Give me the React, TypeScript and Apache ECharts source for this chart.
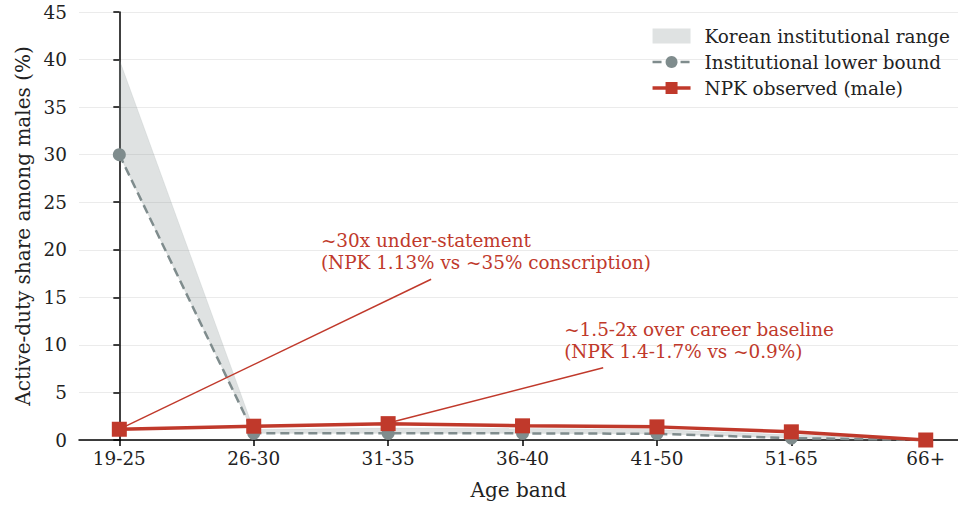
import React, { useEffect, useRef } from "react";
import * as echarts from "echarts";

const categories = ["19-25", "26-30", "31-35", "36-40", "41-50", "51-65", "66+"];
const npkObserved = [1.13, 1.45, 1.72, 1.49, 1.38, 0.86, 0.0];
const lowerBound = [30, 0.7, 0.7, 0.7, 0.65, 0.2, 0.0];
const upperBound = [40, 1.1, 1.25, 1.2, 1.1, 0.55, 0.05];

const seriesNames = ["Korean institutional range", "Institutional lower bound", "NPK observed (male)"];

const annotationTexts = [
  "~30x under-statement\n(NPK 1.13% vs ~35% conscription)",
  "~1.5-2x over career baseline\n(NPK 1.4-1.7% vs ~0.9%)",
];
const annotationTextAt = [
  [1.5, 17.5],
  [3.31, 8.1],
];
const arrowFrom = [
  [2.32, 16.9],
  [3.6, 7.6],
];
const arrowTo = [
  [0.04, 1.4],
  [2.03, 1.9],
];

const RED = "#c0392b";
const GRAY = "#7f8c8d";
const BAND = "rgba(127,140,141,0.25)";
const FONT = "DejaVu Serif";
const TICK_FS = 18.4;
const LABEL_FS = 20;

export default function App() {
  const ref = useRef<HTMLDivElement>(null);
  useEffect(() => {
    if (!ref.current) return;
    const chart = echarts.init(ref.current, null, { renderer: "svg" });
    const idx = categories.map((_, i) => i);
    const segments = idx.slice(0, -1).map((i) => [i, lowerBound[i], upperBound[i], lowerBound[i + 1], upperBound[i + 1]]);
    const option: any = {
      animation: false,
      backgroundColor: "#fff",
      textStyle: { fontFamily: FONT },
      grid: { left: 79, right: 0, top: 12, bottom: 66, containLabel: false },
      legend: {
        right: 3,
        top: 21,
        orient: "vertical",
        itemWidth: 38,
        itemHeight: 15,
        itemGap: 6,
        textStyle: { fontFamily: FONT, fontSize: TICK_FS, color: "#222", lineHeight: 20, padding: [0, 0, 0, 9] },
        data: [
          { name: seriesNames[0], icon: "rect", itemStyle: { color: BAND } },
          { name: seriesNames[1], lineStyle: { width: 2.5 } },
          { name: seriesNames[2], lineStyle: { width: 3.5 } },
        ],
      },
      xAxis: {
        type: "value",
        min: -0.3,
        max: 6.24,
        name: "Age band",
        nameLocation: "middle",
        nameGap: 40,
        nameTextStyle: { fontFamily: FONT, fontSize: LABEL_FS, color: "#222" },
        axisLine: { show: true, onZero: false, lineStyle: { color: "#000", width: 1.5 } },
        axisTick: { show: true, customValues: idx, length: 6, lineStyle: { color: "#000", width: 1.5 } },
        axisLabel: {
          customValues: idx,
          formatter: (v: number) => categories[Math.round(v)] ?? "",
          fontFamily: FONT,
          fontSize: TICK_FS,
          color: "#222",
          margin: 9,
        },
        splitLine: { show: false },
      },
      yAxis: {
        type: "value",
        min: 0,
        max: 45,
        interval: 5,
        name: "Active-duty share among males (%)",
        nameLocation: "middle",
        nameGap: 46,
        nameTextStyle: { fontFamily: FONT, fontSize: LABEL_FS, color: "#222" },
        axisLine: { show: true, lineStyle: { color: "#000", width: 1.5 } },
        axisTick: { show: true, length: 6, lineStyle: { color: "#000", width: 1.5 } },
        axisLabel: { fontFamily: FONT, fontSize: TICK_FS, color: "#222", margin: 12 },
        splitLine: { show: true, lineStyle: { color: "#ebebeb", width: 1 } },
      },
      series: [
        {
          name: seriesNames[0],
          type: "custom",
          data: segments,
          encode: { x: 0, y: [1, 2, 3, 4] },
          itemStyle: { color: BAND },
          silent: true,
          clip: true,
          z: 1,
          renderItem: (params: any, api: any) => {
            const i = api.value(0);
            const pts = [
              api.coord([i, api.value(2)]),
              api.coord([i + 1, api.value(4)]),
              api.coord([i + 1, api.value(3)]),
              api.coord([i, api.value(1)]),
            ];
            return { type: "polygon", shape: { points: pts }, style: { fill: BAND, stroke: BAND, lineWidth: 0.5 } };
          },
        },
        {
          name: seriesNames[1],
          type: "line",
          data: idx.map((i) => [i, lowerBound[i]]),
          symbol: "circle",
          symbolSize: 13,
          itemStyle: { color: GRAY },
          lineStyle: { color: GRAY, width: 2.5, type: [9, 5] },
          z: 3,
        },
        {
          name: seriesNames[2],
          type: "line",
          data: idx.map((i) => [i, npkObserved[i]]),
          symbol: "rect",
          symbolSize: 15,
          itemStyle: { color: RED },
          lineStyle: { color: RED, width: 3.5 },
          z: 4,
          markLine: {
            silent: true,
            symbol: ["none", "arrow"],
            symbolSize: [0, 9],
            label: { show: false },
            lineStyle: { color: RED, width: 1.5, type: "solid" },
            data: arrowFrom.map((f, k) => [{ coord: f }, { coord: arrowTo[k] }]),
          },
        },
      ],
    };
    chart.setOption(option);
    const graphics = annotationTexts.map((t, k) => {
      const p = chart.convertToPixel({ gridIndex: 0 }, annotationTextAt[k]) as number[];
      return {
        type: "text",
        x: p[0],
        y: p[1],
        z: 10,
        style: {
          text: t,
          fill: RED,
          font: `${TICK_FS}px "${FONT}"`,
          textAlign: "left",
          textVerticalAlign: "bottom",
          lineHeight: 22,
        },
      };
    });
    chart.setOption({ graphic: graphics });
    return () => chart.dispose();
  }, []);
  return <div ref={ref} style={{ position: "fixed", left: 0, top: 0, width: 958, height: 506 }} />;
}
